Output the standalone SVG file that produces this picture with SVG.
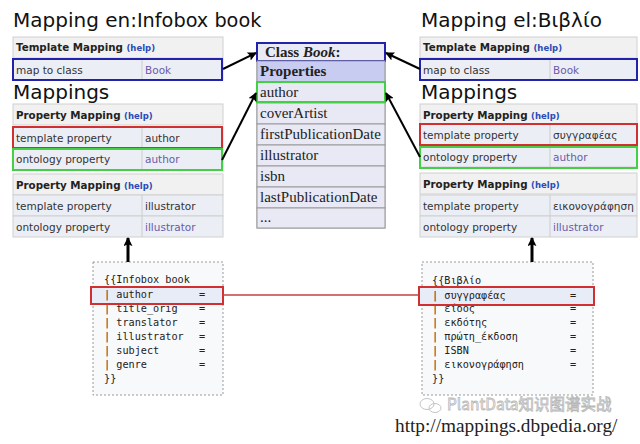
<svg xmlns="http://www.w3.org/2000/svg" width="640" height="444" viewBox="0 0 640 444">
<defs>
<marker id="ahb" viewBox="0 0 10 10" refX="9" refY="5" markerWidth="9" markerHeight="9" orient="auto" markerUnits="userSpaceOnUse"><path d="M0,0 L10,5 L0,10 L2,5 z" fill="#000"/></marker>
</defs>
<style>
.title{font-family:"DejaVu Sans",sans-serif;font-size:20px;fill:#111}
.hdr{fill:#f1f1f1;stroke:#d0d0d0;stroke-width:1}
.row{fill:#eceef6;stroke:#d0d0d0;stroke-width:1}
.ht{font-family:"DejaVu Sans",sans-serif;font-size:10.3px;font-weight:bold;fill:#222}
.help{font-family:"DejaVu Sans",sans-serif;font-size:8.5px;font-weight:bold;fill:#2a4ab8}
.t{font-family:"DejaVu Sans",sans-serif;font-size:10.5px;fill:#333}
.lk{font-family:"DejaVu Sans",sans-serif;font-size:10.5px;fill:#6a5aa8}
.blue{fill:none;stroke:#2222aa;stroke-width:2}
.red{fill:none;stroke:#d03030;stroke-width:2}
.green{fill:none;stroke:#44d044;stroke-width:2}
.cls{fill:#e8e9f4;stroke:#999;stroke-width:1}
.ct{font-family:"Liberation Serif","DejaVu Serif",serif;font-size:15px;fill:#222}
.code{fill:#f8f9fb;stroke:#999;stroke-width:1;stroke-dasharray:2,2}
.mono{font-family:"DejaVu Sans Mono",monospace;font-size:10.2px;fill:#222}
.conn{stroke:#000;stroke-width:2;fill:none}
</style>
<rect width="640" height="444" fill="#fff"/>

<g id="left-page">
<text class="title" x="13" y="27">Mapping en:<tspan font-size="19.3">Infobox book</tspan></text>
<rect class="hdr" x="13" y="37" width="210" height="21"/>
<text class="ht" x="16" y="51">Template Mapping <tspan class="help">(help)</tspan></text>
<rect class="row" x="13" y="59" width="210" height="21"/>
<line x1="142" y1="59" x2="142" y2="80" stroke="#ccc"/>
<text class="t" x="16" y="74">map to class</text>
<text class="lk" x="145" y="74">Book</text>
<rect class="blue" x="13" y="59" width="209" height="21"/>
<text class="title" x="13" y="99">Mappings</text>
<rect class="hdr" x="13" y="104" width="210" height="21"/>
<text class="ht" x="16" y="119">Property Mapping <tspan class="help">(help)</tspan></text>
<rect class="row" x="13" y="127" width="210" height="21"/>
<rect class="row" x="13" y="149" width="210" height="21"/>
<line x1="142" y1="127" x2="142" y2="170" stroke="#ccc"/>
<text class="t" x="16" y="142">template property</text>
<text class="t" x="145" y="142" fill="#222">author</text>
<text class="t" x="16" y="163">ontology property</text>
<text class="lk" x="145" y="163">author</text>
<rect class="red" x="13" y="127" width="209" height="21"/>
<rect class="green" x="13" y="149" width="209" height="21"/>
<rect class="hdr" x="13" y="174" width="210" height="21"/>
<text class="ht" x="16" y="189">Property Mapping <tspan class="help">(help)</tspan></text>
<rect class="row" x="13" y="195" width="210" height="21"/>
<rect class="row" x="13" y="216" width="210" height="21"/>
<line x1="142" y1="195" x2="142" y2="237" stroke="#ccc"/>
<text class="t" x="16" y="210">template property</text>
<text class="t" x="145" y="210" fill="#222">illustrator</text>
<text class="t" x="16" y="231">ontology property</text>
<text class="lk" x="145" y="231">illustrator</text>
</g>

<g id="class-book">
<rect class="cls" x="257" y="43" width="128" height="185"/>
<rect x="257" y="43" width="128" height="18" fill="#eaeaf6"/>
<text class="ct" x="265" y="57" font-weight="bold">Class <tspan font-style="italic">Book</tspan>:</text>
<rect x="257" y="43" width="128" height="18" fill="none" stroke="#2222aa" stroke-width="2"/>
<rect x="257" y="61" width="128" height="21" fill="#c8ccf0" stroke="#999"/>
<text class="ct" x="260" y="76" font-weight="bold">Properties</text>
<rect class="cls" x="257" y="82" width="128" height="21"/>
<rect class="cls" x="257" y="103" width="128" height="21"/>
<rect class="cls" x="257" y="124" width="128" height="21"/>
<rect class="cls" x="257" y="145" width="128" height="21"/>
<rect class="cls" x="257" y="166" width="128" height="21"/>
<rect class="cls" x="257" y="187" width="128" height="21"/>
<rect class="cls" x="257" y="208" width="128" height="20"/>
<text class="ct" x="260" y="97">author</text>
<text class="ct" x="260" y="118">coverArtist</text>
<text class="ct" x="260" y="139">firstPublicationDate</text>
<text class="ct" x="260" y="160">illustrator</text>
<text class="ct" x="260" y="181">isbn</text>
<text class="ct" x="260" y="202">lastPublicationDate</text>
<text class="ct" x="260" y="222">...</text>
<rect class="green" x="257" y="82" width="128" height="20"/>
</g>

<g id="right-page">
<text class="title" x="421" y="27">Mapping el:Βιβλίο</text>
<rect class="hdr" x="420" y="37" width="217" height="21"/>
<text class="ht" x="423" y="51">Template Mapping <tspan class="help">(help)</tspan></text>
<rect class="row" x="420" y="59" width="217" height="21"/>
<line x1="550" y1="59" x2="550" y2="80" stroke="#ccc"/>
<text class="t" x="423" y="74">map to class</text>
<text class="lk" x="553" y="74">Book</text>
<rect class="blue" x="420" y="59" width="217" height="21"/>
<text class="title" x="421" y="99">Mappings</text>
<rect class="hdr" x="420" y="104" width="217" height="21"/>
<text class="ht" x="423" y="119">Property Mapping <tspan class="help">(help)</tspan></text>
<rect class="row" x="420" y="124" width="217" height="21"/>
<rect class="row" x="420" y="146" width="217" height="21"/>
<line x1="550" y1="124" x2="550" y2="167" stroke="#ccc"/>
<text class="t" x="423" y="139">template property</text>
<text class="t" x="553" y="139" fill="#222">συγγραφέας</text>
<text class="t" x="423" y="161">ontology property</text>
<text class="lk" x="553" y="161">author</text>
<rect class="red" x="420" y="124" width="217" height="21"/>
<rect class="green" x="420" y="147" width="217" height="21"/>
<rect class="hdr" x="420" y="173" width="217" height="21"/>
<text class="ht" x="423" y="188">Property Mapping <tspan class="help">(help)</tspan></text>
<rect class="row" x="420" y="195" width="217" height="21"/>
<rect class="row" x="420" y="216" width="217" height="21"/>
<line x1="550" y1="195" x2="550" y2="237" stroke="#ccc"/>
<text class="t" x="423" y="210">template property</text>
<text class="t" x="553" y="210" fill="#222">εικονογράφηση</text>
<text class="t" x="423" y="231">ontology property</text>
<text class="lk" x="553" y="231">illustrator</text>
</g>

<g id="infobox-en">
<rect class="code" x="93" y="262" width="130" height="133"/>
<rect x="91" y="287" width="132" height="17" fill="#e8ecf6"/>
<text class="mono" x="104" y="283">{{Infobox book</text>
<text class="mono" x="104" y="298">| author</text>
<text class="mono" x="104" y="312">| title_orig</text>
<text class="mono" x="104" y="326">| translator</text>
<text class="mono" x="104" y="340">| illustrator</text>
<text class="mono" x="104" y="354">| subject</text>
<text class="mono" x="104" y="368">| genre</text>
<text class="mono" x="104" y="382">}}</text>
<g class="mono"><text x="199" y="298">=</text><text x="199" y="312">=</text><text x="199" y="326">=</text><text x="199" y="340">=</text><text x="199" y="354">=</text><text x="199" y="368">=</text></g>
<rect class="red" x="91" y="287" width="132" height="17"/>
</g>

<g id="infobox-el">
<rect class="code" x="422" y="262" width="171" height="133"/>
<rect x="419" y="287" width="175" height="18" fill="#e8ecf6"/>
<text class="mono" x="432" y="284">{{Βιβλίο</text>
<text class="mono" x="432" y="299">| συγγραφέας</text>
<text class="mono" x="432" y="312">| είδος</text>
<text class="mono" x="432" y="326">| εκδότης</text>
<text class="mono" x="432" y="340">| πρώτη_έκδοση</text>
<text class="mono" x="432" y="354">| ISBN</text>
<text class="mono" x="432" y="368">| εικονογράφηση</text>
<text class="mono" x="432" y="382">}}</text>
<g class="mono"><text x="570" y="299">=</text><text x="570" y="312">=</text><text x="570" y="326">=</text><text x="570" y="340">=</text><text x="570" y="354">=</text><text x="570" y="368">=</text></g>
<rect class="red" x="419" y="287" width="175" height="18"/>
</g>

<g id="connectors">
<line class="conn" x1="223" y1="69" x2="256" y2="53" marker-end="url(#ahb)"/>
<line class="conn" x1="222" y1="160" x2="256" y2="93" marker-end="url(#ahb)"/>
<line class="conn" x1="420" y1="69" x2="386" y2="53" marker-end="url(#ahb)"/>
<line class="conn" x1="420" y1="157" x2="386" y2="93" marker-end="url(#ahb)"/>
<line x1="128" y1="262" x2="128" y2="238" stroke="#000" stroke-width="3" marker-end="url(#ahb)"/>
<line x1="532" y1="262" x2="532" y2="238" stroke="#000" stroke-width="3" marker-end="url(#ahb)"/>
<line x1="223" y1="295" x2="419" y2="295" stroke="#c84040" stroke-width="1.5"/>
</g>

<g id="watermark" fill="none" stroke="#c4c4c4" stroke-width="1">
<ellipse cx="427" cy="404" rx="7" ry="5.5"/>
<ellipse cx="435" cy="408" rx="6" ry="4.5"/>
</g>
<text x="447" y="410" font-family="'Noto Sans CJK SC',sans-serif" font-size="15.5" fill="#fff" stroke="#b8b8b8" stroke-width="0.8">PlantData知识图谱实战</text>
<text x="395" y="432" font-family="'Liberation Serif',serif" font-size="19.3" fill="#222">http://mappings.dbpedia.org/</text>
</svg>
